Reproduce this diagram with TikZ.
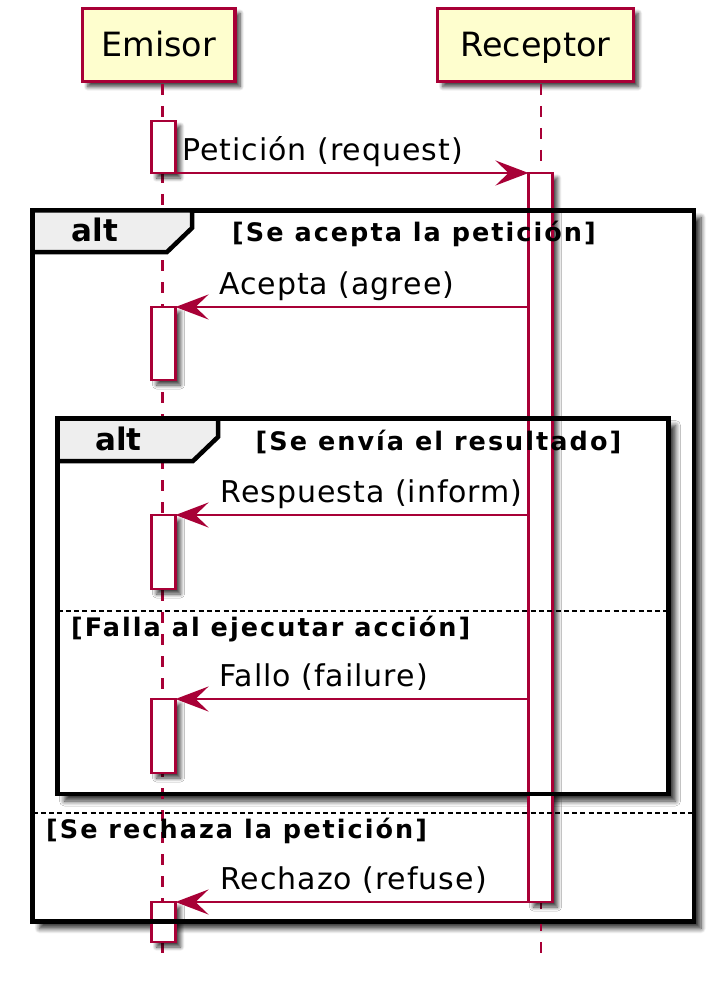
\documentclass[tikz,border=0pt]{standalone}
\usepackage{fontspec}
\setmainfont{DejaVu Sans}
\newfontfamily\guardfont{DejaVu Sans}[LetterSpace=8]
\newfontfamily\msgfont{DejaVu Sans}[LetterSpace=3.3]
\usetikzlibrary{arrows.meta,shadows.blur}
\definecolor{umlred}{HTML}{A80036}
\definecolor{umlfill}{HTML}{FEFECE}
\definecolor{tabgray}{HTML}{EEEEEE}
\begin{document}
\begin{tikzpicture}[x=1pt,y=-1pt,
  shad/.style={blur shadow={shadow xshift=5pt,shadow yshift=-5pt,shadow blur radius=4pt,shadow blur steps=8,shadow opacity=75}},
  fshad/.style={blur shadow={shadow xshift=7pt,shadow yshift=-7pt,shadow blur radius=5pt,shadow blur steps=8,shadow opacity=80}},
  participant/.style={draw=umlred,fill=umlfill,line width=3.3pt,shad,inner sep=0,
    font=\fontsize{33.4}{40}\selectfont,text height=24pt,text depth=0pt},
  lifeline/.style={draw=umlred,line width=2.6pt,dash pattern=on 11pt off 11pt},
  act/.style={draw=umlred,fill=white,line width=2.4pt,shad,minimum width=24pt,inner sep=0,outer sep=0},
  msg/.style={draw=umlred,line width=2.4pt,-{Stealth[length=33pt,width=25pt,inset=13pt]}},
  msgtext/.style={anchor=base west,inner sep=0,font=\msgfont\fontsize{30}{36}\selectfont},
  frameline/.style={draw=black,line width=4.5pt},
  tabshape/.style={draw=black,fill=tabgray,line width=4.5pt,line join=miter},
  alttext/.style={anchor=base west,inner sep=0,font=\bfseries\fontsize{31}{37}\selectfont},
  guard/.style={anchor=base west,inner sep=0,font=\guardfont\bfseries\fontsize{25.5}{31}\selectfont},
  sep/.style={draw=black,line width=2.6pt,dash pattern=on 5pt off 3.3pt}]
\useasboundingbox (0,0) rectangle (721,992);

% participants
\node[participant,minimum width=152.3pt,minimum height=73.6pt] (emisor) at (158.9,45) {Emisor};
\node[participant,minimum width=195.6pt,minimum height=73.6pt] (receptor) at (535.5,45) {Receptor};

% frame backgrounds with shadows
\path[fill=white,fshad] (32.5,210.5) rectangle (694,921.5);
\path[fill=white,fshad] (57.5,418.5) rectangle (668.5,794);

% lifelines
\coordinate (eTop) at (162.5,84);
\coordinate (eEnd) at (162.5,957);
\coordinate (rTop) at (541,84);
\coordinate (rEnd) at (541,957);
\draw[lifeline] (eTop) -- (eEnd);
\draw[lifeline] (rTop) -- (rEnd);

% activations
\node[act,minimum height=52pt] (e1) at (163.5,147) {};
\node[act,minimum height=729pt] (r1) at (540.5,537.5) {};
\node[act,minimum height=73pt] (e2) at (163.5,343.5) {};
\node[act,minimum height=74pt] (e3) at (163.5,552) {};
\node[act,minimum height=74pt] (e4) at (163.5,736) {};
\node[act,minimum height=40pt] (e5) at (163.5,922) {};

% frame 1
\draw[frameline] (32.5,210.5) rectangle (694,921.5);
\draw[tabshape] (32.5,210.5) -- (192,210.5) -- (192,228) -- (167,252) -- (32.5,252) -- cycle;
\node[alttext] (alt1) at (71.5,241.7) {alt};
\node[guard] (g1) at (232,241) {[Se acepta la petición]};
\draw[sep] (32.5,813) -- (694,813);
\node[guard] (g4) at (46,838.5) {[Se rechaza la petición]};

% frame 2
\draw[frameline] (57.5,418.5) rectangle (668.5,794);
\draw[tabshape] (57.5,418.5) -- (218,418.5) -- (218,437) -- (193,461) -- (57.5,461) -- cycle;
\node[alttext] (alt2) at (95,450.7) {alt};
\node[guard] (g2) at (255.5,450) {[Se envía el resultado]};
\draw[sep] (57.5,611) -- (668.5,611);
\node[guard] (g3) at (71,636.5) {[Falla al ejecutar acción]};

% messages
\draw[msg] (e1.south east) -- (r1.north west);
\node[msgtext] (m1) at (182,160.5) {Petición (request)};
\draw[msg] (r1.west |- e2.north) -- (e2.north east);
\node[msgtext] (m2) at (219,294) {Acepta (agree)};
\draw[msg] (r1.west |- e3.north) -- (e3.north east);
\node[msgtext] (m3) at (220.5,502) {Respuesta (inform)};
\draw[msg] (r1.west |- e4.north) -- (e4.north east);
\node[msgtext] (m4) at (219,686) {Fallo (failure)};
\draw[msg] (r1.south west) -- (e5.north east);
\node[msgtext] (m5) at (220,889.5) {Rechazo (refuse)};
\end{tikzpicture}
\end{document}
